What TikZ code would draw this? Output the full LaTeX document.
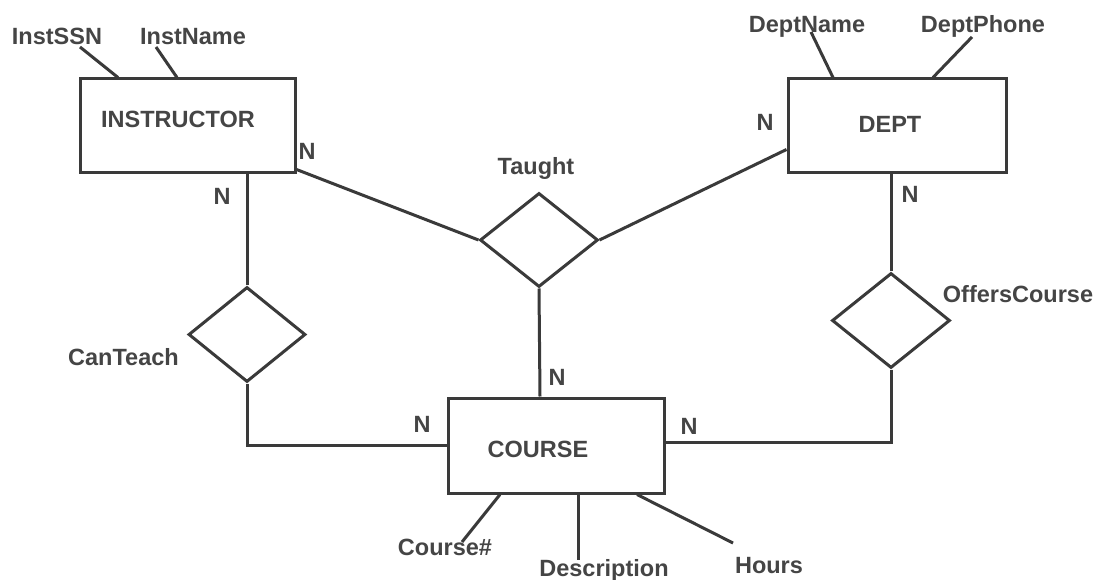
\documentclass[tikz,border=0pt]{standalone}
\usepackage{fontspec}
\setmainfont{Liberation Sans}
\usetikzlibrary{shapes.geometric}
\definecolor{ink}{HTML}{3A3A3A}
\definecolor{txt}{HTML}{454545}
\begin{document}
\begin{tikzpicture}[x=1pt,y=-1pt,
  every node/.style={font=\fontsize{23.5}{28}\selectfont\bfseries, text=txt},
  entity/.style={draw=ink, line width=3pt, rectangle, inner sep=0pt},
  relation/.style={draw=ink, line width=3pt, diamond, inner sep=0pt, shape aspect=1.25},
  lbl/.style={anchor=base, inner sep=0pt},
  link/.style={draw=ink, line width=3pt}]
\path[use as bounding box, fill=white] (0,0) rectangle (1104,580);

% entities
\node[entity, minimum width=215pt, minimum height=94pt] (instr) at (187.5,126) {};
\node[entity, minimum width=218pt, minimum height=94pt] (dept) at (897,126) {};
\node[entity, minimum width=216pt, minimum height=95pt] (course) at (556,445.5) {};
\node[lbl] (instrT) at (178,128) {INSTRUCTOR};
\node[lbl] (deptT) at (890,133) {DEPT};
\node[lbl] (courseT) at (538,457) {COURSE};

% relationships
\node[relation, minimum width=118pt, minimum height=94pt] (taught) at (539,240) {};
\node[relation, minimum width=117pt, minimum height=95pt] (canteach) at (247,334.5) {};
\node[relation, minimum width=118pt, minimum height=95pt] (offers) at (891,320.5) {};
\node[lbl] (taughtT) at (536,175) {Taught};
\node[lbl] (canteachT) at (123.5,365) {CanTeach};
\node[lbl] (offersT) at (1018,303) {OffersCourse};

% attributes
\node[lbl] (ssn) at (57,45) {InstSSN};
\node[lbl] (iname) at (193,45) {InstName};
\node[lbl] (dname) at (807,33) {DeptName};
\node[lbl] (dphone) at (983,33) {DeptPhone};
\node[lbl] (cnum) at (445,555) {Course\#};
\node[lbl] (desc) at (604,576) {Description};
\node[lbl] (hours) at (769,573) {Hours};

% attribute lines
\draw[link] ([xshift=23pt,yshift=-2pt]ssn.base) -- ([xshift=-69.5pt]instr.north);
\draw[link] ([xshift=-37pt,yshift=-2pt]iname.base) -- ([xshift=-10.5pt]instr.north);
\draw[link] ([xshift=4pt,yshift=1pt]dname.base) -- ([xshift=-64pt]dept.north);
\draw[link] ([xshift=-11pt,yshift=-4pt]dphone.base) -- ([xshift=36pt]dept.north);
\draw[link] ([xshift=-56pt]course.south) -- ([xshift=17pt,yshift=13pt]cnum.base);
\draw[link] ([xshift=22pt]course.south) -- ([xshift=-26pt,yshift=16pt]desc.base);
\draw[link] ([xshift=81pt]course.south) -- ([xshift=-36pt,yshift=30pt]hours.base);

% relationship lines
\draw[link] ([yshift=5pt]instr.south east) -- (taught.west);
\draw[link] (taught.east) -- ([yshift=25pt]dept.south west);
\draw[link] (taught.south) -- ([xshift=-16pt]course.north);
\draw[link] ([xshift=59.5pt]instr.south) -- (canteach.north);
\draw[link] (canteach.south) |- (course.west);
\draw[link] ([xshift=-6pt]dept.south) -- (offers.north);
\draw[link] (offers.south) |- ([yshift=3pt]course.east);

% cardinalities
\node[lbl] (n1) at (307,160) {N};
\node[lbl] (n2) at (222,205) {N};
\node[lbl] (n3) at (765,131) {N};
\node[lbl] (n4) at (910,203) {N};
\node[lbl] (n5) at (557,385) {N};
\node[lbl] (n6) at (422,432) {N};
\node[lbl] (n7) at (689,434) {N};
\end{tikzpicture}
\end{document}
